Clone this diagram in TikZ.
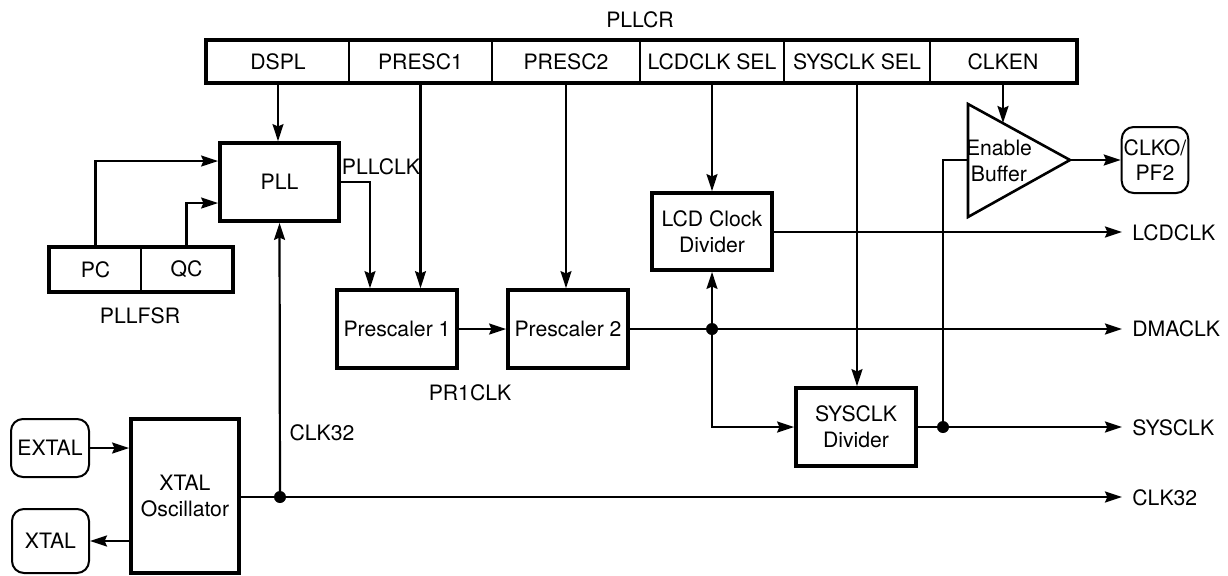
\documentclass[tikz,border=0pt]{standalone}
\usepackage{fontspec}
\setmainfont{TeX Gyre Heros}
\usetikzlibrary{arrows.meta,calc}
\tikzset{
  blk/.style={draw,line width=1.9pt,align=center,inner sep=1pt},
  cell/.style={draw,line width=1.1pt,inner sep=0pt,minimum height=20.5pt},
  pin/.style={draw,line width=1pt,rounded corners=6pt,align=center,inner sep=1pt},
  wire/.style={line width=1.1pt},
  arr/.style={line width=1.1pt,-{Stealth[length=8.5pt,width=5.5pt,inset=1.2pt]}},
  dot/.style={circle,fill,inner sep=0pt,minimum size=6pt},
  lbl/.style={inner sep=0pt}
}
\begin{document}
\begin{tikzpicture}[x=0.5pt,y=-0.5pt,font=\fontsize{10.6}{12.8}\selectfont]
\useasboundingbox (0,0) rectangle (1228,575);
% register PLLCR
\node[cell,minimum width=71pt]   (c1) at (278,61.5)   {DSPL};
\node[cell,minimum width=71.5pt] (c2) at (420.5,61.5) {PRESC1};
\node[cell,minimum width=74pt]   (c3) at (566,61.5)   {PRESC2};
\node[cell,minimum width=72pt]   (c4) at (712,61.5)   {LCDCLK SEL};
\node[cell,minimum width=73pt]   (c5) at (857,61.5)   {SYSCLK SEL};
\node[cell,minimum width=73pt]   (c6) at (1003,61.5)  {CLKEN};
\draw[line width=1.8pt] (c1.north west) rectangle (c6.south east);
\node[lbl] (pllcr) at (640,20) {PLLCR};
% PLLFSR
\node[cell,minimum width=45.5pt,minimum height=21.5pt] (pc) at (95.5,269.5) {PC};
\node[cell,minimum width=45.5pt,minimum height=21.5pt] (qc) at (186.5,269.5) {QC};
\draw[line width=1.8pt] (pc.north west) rectangle (qc.south east);
\node[lbl] (pllfsr) at (140,316) {PLLFSR};
% blocks
\node[blk,minimum width=59.5pt,minimum height=39pt] (pll) at (279.5,182) {PLL};
\node[blk,minimum width=60pt,minimum height=39pt] (p1) at (397,329) {Prescaler 1};
\node[blk,minimum width=60pt,minimum height=39pt] (p2) at (568,329) {Prescaler 2};
\node[blk,minimum width=60pt,minimum height=38.5pt] (lcd) at (712,231.5) {LCD Clock\\Divider};
\node[blk,minimum width=60pt,minimum height=39pt] (sys) at (856,427) {SYSCLK\\Divider};
\node[blk,minimum width=54pt,minimum height=77pt] (osc) at (185,496) {XTAL\\Oscillator};
\node[pin,minimum width=39pt,minimum height=29pt] (extal) at (50,448) {EXTAL};
\node[pin,minimum width=38.5pt,minimum height=32pt] (xtal) at (50.5,541) {XTAL};
\node[pin,minimum width=33pt,minimum height=33pt] (clko) at (1155,160) {CLKO/\\PF2};
% labels
\node[lbl] (pllclk) at (381,167) {PLLCLK};
\node[lbl] (pr1clk) at (470,393) {PR1CLK};
\node[lbl] (clk32l) at (322,433) {CLK32};
% enable buffer
\coordinate (bt) at (968,104);
\coordinate (bb) at (968,217);
\coordinate (btip) at (1070,160);
\coordinate (bin) at (968,160);
\coordinate (ben) at (1003,123);
\draw[line width=1.3pt] (bt) -- (btip) -- (bb) -- cycle;
\node[lbl,align=center] (buf) at (999,161) {Enable\\Buffer};
% outputs
\coordinate (oL) at (1122,232);
\coordinate (oD) at (1122,329);
\coordinate (oS) at (1122,427);
\coordinate (oC) at (1122,497);
\node[lbl,anchor=west] (tL) at (1132,233) {LCDCLK};
\node[lbl,anchor=west] (tD) at (1132,329) {DMACLK};
\node[lbl,anchor=west] (tS) at (1132,428) {SYSCLK};
\node[lbl,anchor=west] (tC) at (1132,498) {CLK32};
% junctions
\node[dot] (jD) at (712,329) {};
\node[dot] (jS) at (943,427) {};
\node[dot] (jC) at (280,497) {};
% connectors from register
\draw[arr] (c1.south) -- (c1.south |- pll.north);
\draw[arr] (c2.south) -- (c2.south |- p1.north);
\draw[arr] (c3.south) -- (c3.south |- p2.north);
\draw[arr] (c4.south) -- (lcd.north);
\draw[arr] (c5.south) -- (c5.south |- sys.north);
\draw[arr] (c6.south) -- (ben);
% PLL inputs / output
\draw[arr] (pc.north) |- ([yshift=10.5pt]pll.west);
\draw[arr] (qc.north) |- ([yshift=-10.5pt]pll.west);
\draw[arr] (pll.east) -| ([xshift=-13.5pt]p1.north);
\draw[arr] (p1.east) -- (p2.west);
% DMACLK
\draw[wire] (p2.east) -- (jD.center);
\draw[arr] (jD.center) -- (oD);
\draw[arr] (jD.center) -- (lcd.south);
\draw[arr] (jD.center) |- (sys.west);
% LCDCLK
\draw[arr] (lcd.east |- oL) -- (oL);
% SYSCLK
\draw[wire] (sys.east) -- (jS.center);
\draw[arr] (jS.center) -- (oS);
\draw[wire] (jS.center) |- (bin);
\draw[arr] (btip) -- (clko.west);
% CLK32
\draw[wire] (osc.east |- jC) -- (jC.center);
\draw[arr] (jC.center) -- (oC);
\draw[arr] (jC.center) -- (pll.south);
% crystal pins
\draw[arr] (extal.east) -- (extal.east -| osc.west);
\draw[arr] (osc.west |- xtal.east) -- (xtal.east);
\end{tikzpicture}
\end{document}
